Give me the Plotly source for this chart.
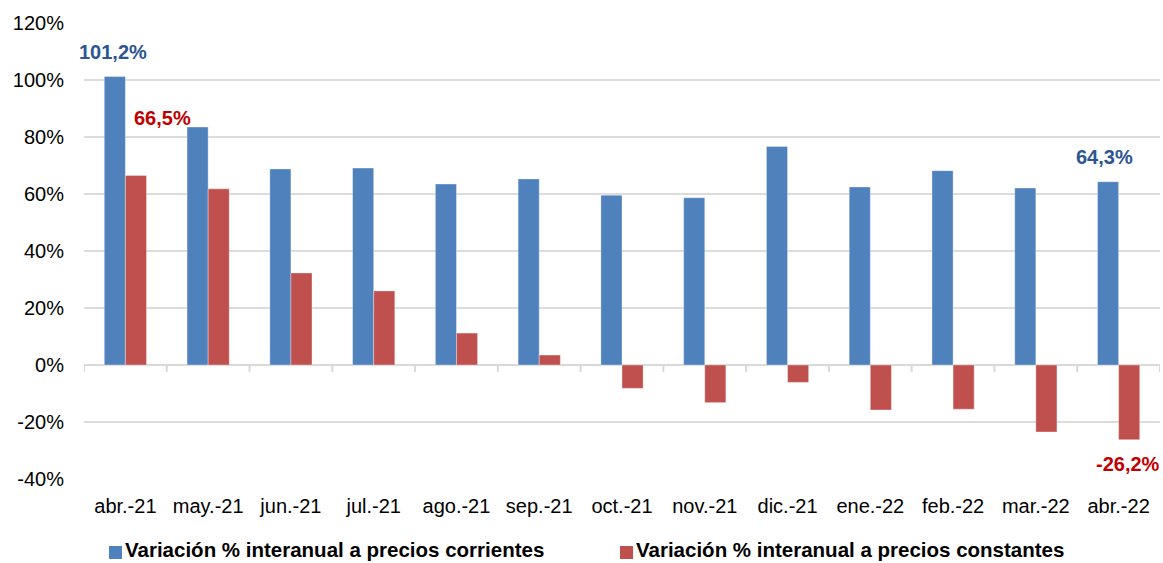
import plotly.graph_objects as go

categories = ["abr.-21", "may.-21", "jun.-21", "jul.-21", "ago.-21", "sep.-21", "oct.-21",
              "nov.-21", "dic.-21", "ene.-22", "feb.-22", "mar.-22", "abr.-22"]
corrientes = [101.2, 83.5, 68.8, 69.1, 63.5, 65.3, 59.6, 58.7, 76.7, 62.5, 68.2, 62.1, 64.3]
constantes = [66.5, 61.8, 32.3, 26.0, 11.2, 3.5, -8.2, -13.2, -6.1, -15.8, -15.5, -23.5, -26.2]
name_corr = "Variación % interanual a precios corrientes"
name_const = "Variación % interanual a precios constantes"
y_ticks = [-40, -20, 0, 20, 40, 60, 80, 100, 120]

BLUE = "#4F81BD"
RED = "#C0504D"
FONT = "Liberation Sans, Arial, Helvetica, sans-serif"

W, H = 1163, 563
ML, MR, MT, MB = 84, 3, 23, 84
PW, PH = W - ML - MR, H - MT - MB

def px_x(px):
    return (px - ML) / PW

def px_y(py):
    return (H - MB - py) / PH

fig = go.Figure()
fig.add_bar(x=categories, y=corrientes, name=name_corr, showlegend=False,
            marker=dict(color=BLUE, line=dict(color="rgba(255,255,255,0.35)", width=1)))
fig.add_bar(x=categories, y=constantes, name=name_const, showlegend=False,
            marker=dict(color=RED, line=dict(color="rgba(255,255,255,0.35)", width=1)))

# tick marks on the zero line at category boundaries
for i in range(len(categories) + 1):
    fig.add_shape(type="line", xref="x", yref="y", x0=i - 0.5, x1=i - 0.5,
                  ysizemode="pixel", yanchor=0, y0=0, y1=-7,
                  line=dict(color="#d9d9d9", width=2), layer="below")

def fmt(v):
    return f"{v:.1f}".replace(".", ",") + "%"

LBL = 20
fig.add_annotation(x=categories[0], y=corrientes[0], text=f"<b>{fmt(corrientes[0])}</b>",
                   showarrow=False, xshift=-12, yshift=25,
                   font=dict(color="#2C5592", size=LBL, family=FONT))
fig.add_annotation(x=categories[0], y=constantes[0], text=f"<b>{fmt(constantes[0])}</b>",
                   showarrow=False, xshift=37, yshift=57,
                   font=dict(color="#C00000", size=LBL, family=FONT))
fig.add_annotation(x=categories[-1], y=corrientes[-1], text=f"<b>{fmt(corrientes[-1])}</b>",
                   showarrow=False, xshift=-14, yshift=25,
                   font=dict(color="#2C5592", size=LBL, family=FONT))
fig.add_annotation(x=categories[-1], y=constantes[-1], text=f"<b>{fmt(constantes[-1])}</b>",
                   showarrow=False, xshift=9, yshift=-24,
                   font=dict(color="#C00000", size=LBL, family=FONT))

# legend (drawn manually to match the compact reference layout)
legend_items = [(name_corr, BLUE, 109), (name_const, RED, 620)]
for name, color, sx in legend_items:
    fig.add_shape(type="rect", xref="paper", yref="paper",
                  x0=px_x(sx), x1=px_x(sx + 13), y0=px_y(559), y1=px_y(546),
                  fillcolor=color, line=dict(width=0))
    fig.add_annotation(xref="paper", yref="paper", x=px_x(sx + 14), y=px_y(549),
                       xanchor="left", yanchor="middle", showarrow=False,
                       text=f"<b>{name}</b>",
                       font=dict(size=20.5, family=FONT, color="#000000"))

fig.update_layout(
    width=W, height=H,
    margin=dict(l=ML, r=MR, t=MT, b=MB),
    paper_bgcolor="white", plot_bgcolor="white",
    barmode="group", bargap=0.49, bargroupgap=0,
    font=dict(family=FONT, size=20, color="#000000"),
    showlegend=False,
    xaxis=dict(type="category", range=[-0.5, len(categories) - 0.5],
               showgrid=False, showline=False, zeroline=False,
               ticks="outside", ticklen=9, tickcolor="rgba(0,0,0,0)",
               tickfont=dict(size=20), automargin=False),
    yaxis=dict(range=[-40, 120], tickvals=y_ticks,
               ticktext=[f"{v}%" for v in y_ticks],
               showgrid=True, gridcolor="#dcdcdc", gridwidth=1.5,
               zeroline=True, zerolinecolor="#d9d9d9", zerolinewidth=2,
               showline=False, ticks="", ticklabelstandoff=19,
               tickfont=dict(size=20), automargin=False),
)

fig.write_html("out.html", config={"displayModeBar": False},
               post_script="document.body.style.margin='0';document.body.style.padding='0';")
